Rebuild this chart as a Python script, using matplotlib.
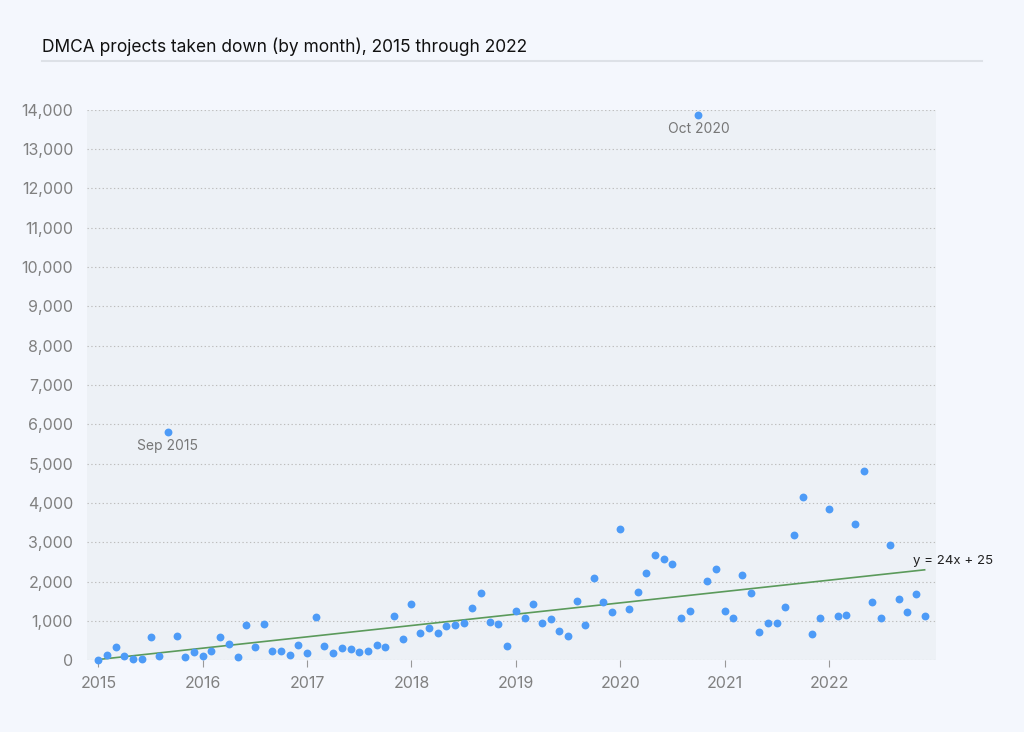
import matplotlib.pyplot as plt
import numpy as np
from matplotlib.ticker import FuncFormatter

plt.rcParams['font.family'] = ['Inter', 'DejaVu Sans']

# monthly takedowns, Jan 2015 .. Dec 2022
takedowns = [
    20, 150, 340, 120, 40, 30, 590, 120, 5820, 620, 100, 220,       # 2015
    120, 240, 600, 430, 100, 900, 340, 930, 230, 250, 150, 400,     # 2016
    180, 1100, 380, 200, 330, 280, 220, 240, 400, 340, 1130, 540,   # 2017
    1430, 700, 830, 690, 880, 900, 950, 1330, 1710, 970, 930, 380,  # 2018
    1246, 1076, 1441, 949, 1059, 754, 627, 1500, 890, 2093, 1475, 1220,   # 2019
    3339, 1305, 1729, 2212, 2678, 2585, 2458, 1076, 1254, 13880, 2008, 2330,  # 2020
    1246, 1068, 2161, 1703, 712, 958, 958, 1347, 3186, 4161, 669, 1085,   # 2021
    3847, 1119, 1153, 3466, 4805, 1475, 1068, 2941, 1559, 1220, 1686, 1127,  # 2022
]
years = ['2015', '2016', '2017', '2018', '2019', '2020', '2021', '2022']
labelled = {8: 'Sep 2015', 69: 'Oct 2020'}
slope, intercept = 24, 25

months = np.arange(len(takedowns))

fig = plt.figure(figsize=(10.24, 7.32), dpi=100)
fig.patch.set_facecolor('#f4f7fd')
ax = fig.add_axes([0.085, 0.0977, 0.829, 0.7523])
ax.set_facecolor('#edf1f6')

ax.scatter(months, takedowns, s=32, color='#4d9bf7', zorder=3, clip_on=False, linewidths=0)

trend_x = np.array([0, len(takedowns) - 1])
ax.plot(trend_x, slope * trend_x + intercept, color='#5b9a5b', lw=1.2, zorder=2)
ax.text(trend_x[-1] - 1.3, slope * trend_x[-1] + intercept + 60,
        'y = %dx + %d' % (slope, intercept), fontsize=9.5, color='#222222',
        ha='left', va='bottom')

for i, lab in labelled.items():
    ax.text(i, takedowns[i] - 200, lab, fontsize=10, color='#777777',
            ha='center', va='top')

ax.set_xlim(-1.3, 96.3)
ax.set_ylim(0, 14000)
ax.set_yticks(np.arange(0, 14001, 1000))
ax.yaxis.set_major_formatter(FuncFormatter(lambda v, p: '{:,.0f}'.format(v)))
ax.set_xticks(np.arange(0, 96, 12))
ax.set_xticklabels(years)

ax.grid(axis='y', linestyle=(0, (1.2, 2.2)), color='#bdbdbd', lw=0.8)
ax.set_axisbelow(True)
for s in ax.spines.values():
    s.set_visible(False)
ax.tick_params(axis='y', length=0, labelsize=11.5, labelcolor='#808080', pad=10)
ax.tick_params(axis='x', length=5, color='#999999', labelsize=11.5,
               labelcolor='#808080', pad=6)

fig.text(0.041, 0.936, 'DMCA projects taken down (by month), 2015 through 2022',
         fontsize=12.5, color='#111111', ha='left', va='center')
fig.add_artist(plt.Line2D([0.041, 0.959], [0.917, 0.917], color='#dde1e7', lw=1.5))

fig.savefig('out.png', dpi=100, facecolor=fig.get_facecolor())
